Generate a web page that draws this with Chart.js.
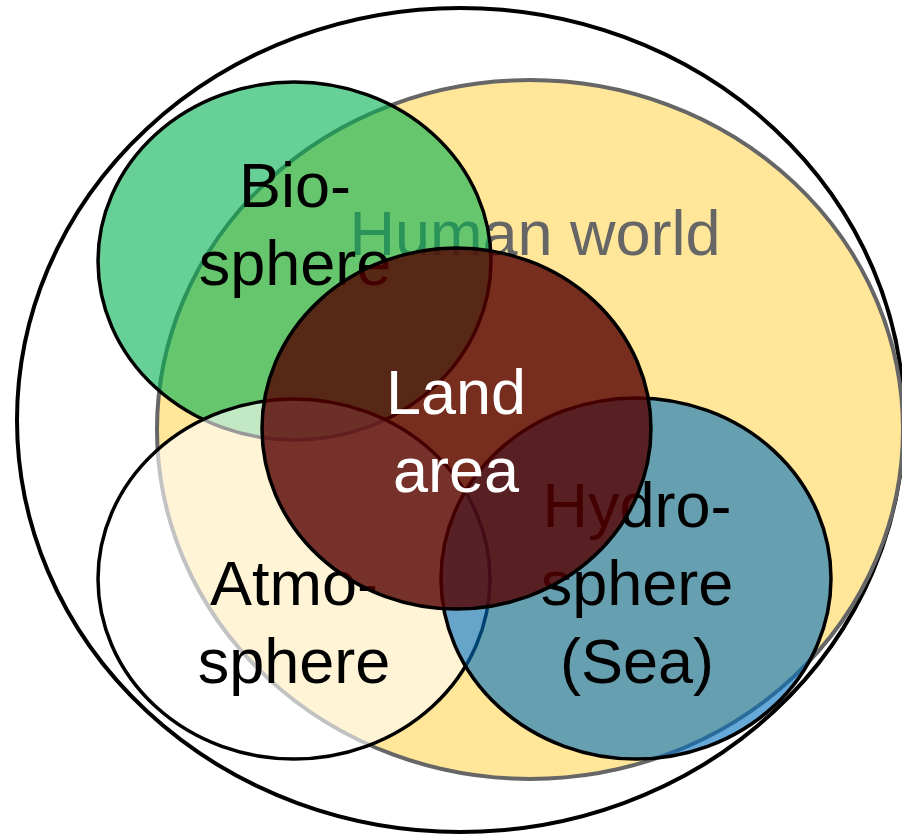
<!DOCTYPE html>
<html>
<head>
<meta charset="utf-8">
<script src="https://cdn.jsdelivr.net/npm/chart.js@4/dist/chart.umd.min.js"></script>
<style>
    html, body { margin: 0; padding: 0; background: #ffffff; }
    #wrap { width: 902px; height: 834px; position: relative; }
</style>
</head>
<body>
<div id="wrap"><canvas id="graphVenn"></canvas></div>
<script>
// Regions - drawn in this order (1 unit = 1/10 of the picture scale)
var names    = ['World', 'Human world', 'Biosphere', 'Atmosphere', 'Hydrosphere', 'Land area'];
var centerX  = [46.05, 53.0, 29.45, 29.4, 63.6, 45.65];
var centerY  = [42.0, 42.95, 26.1, 57.9, 57.85, 42.85];
var radiusX  = [44.35, 37.3, 19.65, 19.6, 19.5, 19.45];
var radiusY  = [41.2, 34.95, 17.9, 18.0, 18.05, 18.05];

// Texts of each region (one entry per line)
var labelLines = [
    [],
    ['Human world'],
    ['Bio-', 'sphere'],
    ['Atmo-', 'sphere'],
    ['Hydro-', 'sphere', '(Sea)'],
    ['Land', 'area']
];
var labelX = [0, 53.5, 29.5, 29.4, 63.7, 45.6];
var labelY = [0, 25.5, 20.7, 60.5, 52.7, 41.4];   // baseline of first line

// styles
var fillColors = ['#ffffff', '#FFE699', 'rgba(0,176,80,0.6)', 'rgba(255,255,255,0.6)', 'rgba(0,112,192,0.6)', 'rgba(85,0,0,0.8)'];
var lineColors = ['#000000', '#666666', '#000000', '#000000', '#000000', '#000000'];
var lineWidths = [4, 4, 3.5, 3.5, 3.5, 3.5];
var textColors = ['#000000', '#666666', '#000000', '#000000', '#000000', '#ffffff'];
var lineHeight = 7.8;

//Plugin - dessin des ellipses et des textes
var ellipsePlugin = {
    id: 'ellipses',
    beforeDatasetsDraw: function (chart) {
        var ctx = chart.ctx;
        var sx = chart.scales.x;
        var sy = chart.scales.y;
        for (var i = 0; i < names.length; i++) {
            var cx = sx.getPixelForValue(centerX[i]);
            var cy = sy.getPixelForValue(centerY[i]);
            var rx = Math.abs(sx.getPixelForValue(centerX[i] + radiusX[i]) - cx);
            var ry = Math.abs(sy.getPixelForValue(centerY[i] + radiusY[i]) - cy);
            ctx.save();
            ctx.beginPath();
            ctx.ellipse(cx, cy, rx, ry, 0, 0, Math.PI * 2);
            ctx.fillStyle = fillColors[i];
            ctx.fill();
            ctx.lineWidth = lineWidths[i];
            ctx.strokeStyle = lineColors[i];
            ctx.stroke();

            ctx.font = '63px "Liberation Sans", Arial, sans-serif';
            ctx.fillStyle = textColors[i];
            ctx.textAlign = 'center';
            ctx.textBaseline = 'alphabetic';
            for (var j = 0; j < labelLines[i].length; j++) {
                ctx.fillText(labelLines[i][j],
                    sx.getPixelForValue(labelX[i]),
                    sy.getPixelForValue(labelY[i] + j * lineHeight));
            }
            ctx.restore();
        }
    }
};

var datasets = [];
for (var k = 0; k < names.length; k++) {
    datasets.push({
        label: names[k],
        data: [{ x: centerX[k], y: centerY[k] }],
        pointRadius: 0,
        pointHoverRadius: 0
    });
}

var ctx = document.getElementById('graphVenn').getContext('2d');
var chart = new Chart(ctx, {
    type: 'scatter',
    data: { datasets: datasets },
    options: {
        responsive: true,
        maintainAspectRatio: false,
        animation: false,
        layout: { padding: 0 },
        plugins: {
            legend: { display: false },
            tooltip: { enabled: false }
        },
        scales: {
            x: { type: 'linear', min: 0, max: 90.2, display: false },
            y: { type: 'linear', min: 0, max: 83.4, reverse: true, display: false }
        }
    },
    plugins: [ellipsePlugin]
});
</script>
</body>
</html>
